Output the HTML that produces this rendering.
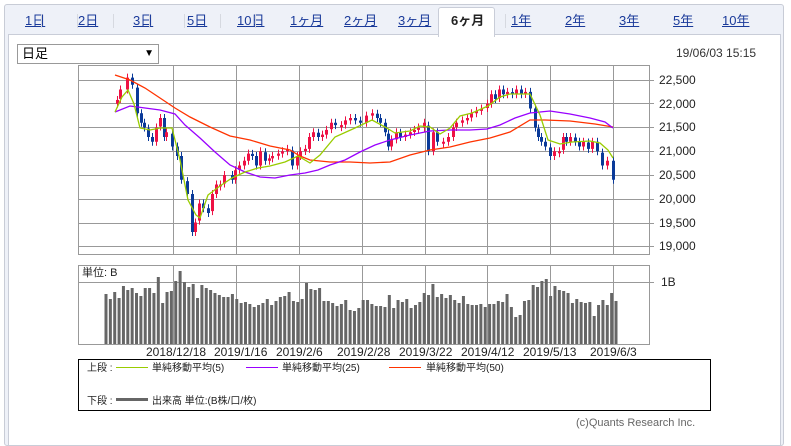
<!DOCTYPE html>
<html><head><meta charset="utf-8">
<style>
body{margin:0;width:791px;height:436px;overflow:hidden;background:#fff;font-family:"Liberation Sans","Noto Sans CJK JP",sans-serif;position:relative}
.outer{position:absolute;left:4px;top:4px;width:778px;height:440px;border:1px solid #c8ccd6;border-radius:3px;background:#eef1f8}
.panel{position:absolute;left:8px;top:34px;width:771px;height:410px;background:#fff;border:1px solid #c9cdd8}
.tab{position:absolute;top:10px;font-size:13px;color:#1a3a9a;text-decoration:underline;}
.sep{position:absolute;top:14px;width:1px;height:14px;background:#d6d9e0}
.act{position:absolute;left:438px;top:7px;width:55px;height:29px;background:#fff;border:1px solid #c9cdd8;border-bottom:none;border-radius:3px 3px 0 0}
</style></head><body>
<div class="outer"></div>
<div class="panel"></div>
<div class="act"></div>
<span class="tab" style="left:25px">1日</span>
<span class="tab" style="left:78px">2日</span>
<span class="tab" style="left:133px">3日</span>
<span class="tab" style="left:187px">5日</span>
<span class="tab" style="left:237px">10日</span>
<span class="tab" style="left:290px">1ヶ月</span>
<span class="tab" style="left:344px">2ヶ月</span>
<span class="tab" style="left:398px">3ヶ月</span>
<span class="tab" style="left:451px;color:#222;text-decoration:none;font-weight:bold">6ヶ月</span>
<span class="tab" style="left:511px">1年</span>
<span class="tab" style="left:565px">2年</span>
<span class="tab" style="left:619px">3年</span>
<span class="tab" style="left:673px">5年</span>
<span class="tab" style="left:722px">10年</span>
<div class="sep" style="left:41px"></div><div class="sep" style="left:77px"></div><div class="sep" style="left:113px"></div><div class="sep" style="left:149px"></div><div class="sep" style="left:184px"></div><div class="sep" style="left:220px"></div><div class="sep" style="left:255px"></div><div class="sep" style="left:505px"></div>
<div style="position:absolute;left:17px;top:44px;width:136px;height:18px;border:1px solid #999;background:#fff;font-size:13px;line-height:18px;padding-left:4px;box-sizing:content-box">日足<span style="position:absolute;right:4px;font-size:10px">▼</span></div>
<div style="position:absolute;left:676px;top:46px;font-size:12px;color:#333">19/06/03 15:15</div>
<svg id="s" width="791" height="436" style="position:absolute;left:0;top:0" xmlns="http://www.w3.org/2000/svg" font-family="Liberation Sans, DejaVu Sans, sans-serif">
<g stroke="#999" fill="none" stroke-width="1">
<rect x="78.5" y="65.5" width="571" height="189"/>
<rect x="78.5" y="265.5" width="571" height="79"/>
</g>
<g fill="#222" font-size="12">
<text x="659" y="84">22,500</text><text x="659" y="108">22,000</text><text x="659" y="131">21,500</text><text x="659" y="155">21,000</text><text x="659" y="179">20,500</text><text x="659" y="203">20,000</text><text x="659" y="227">19,500</text><text x="659" y="250">19,000</text>
<text x="661" y="286">1B</text>
<text x="82" y="276" font-size="11" font-family="Liberation Sans, Noto Sans CJK JP, sans-serif">単位: B</text>
<text x="146" y="356">2018/12/18</text><text x="214" y="356">2019/1/16</text><text x="276" y="356">2019/2/6</text><text x="337" y="356">2019/2/28</text><text x="399" y="356">2019/3/22</text><text x="461" y="356">2019/4/12</text><text x="523" y="356">2019/5/13</text><text x="590" y="356">2019/6/3</text>
</g>
<rect x="78.5" y="359.5" width="632" height="51" fill="none" stroke="#000"/>
<g font-size="10" fill="#222" font-family="Liberation Sans, Noto Sans CJK JP, sans-serif">
<text x="87" y="371">上段 :</text>
<line x1="116" y1="367.5" x2="148" y2="367.5" stroke="#99cc00"/><text x="152" y="371">単純移動平均(5)</text>
<line x1="246" y1="367.5" x2="278" y2="367.5" stroke="#9900ff"/><text x="282" y="371">単純移動平均(25)</text>
<line x1="389" y1="367.5" x2="421" y2="367.5" stroke="#ff3300"/><text x="426" y="371">単純移動平均(50)</text>
<text x="87" y="404">下段 :</text>
<rect x="116" y="398" width="32" height="3" fill="#666"/><text x="152" y="404">出来高 単位:(B株/口/枚)</text>
<text x="576" y="426" fill="#666" font-size="11">(c)Quants Research Inc.</text>
</g>
<g id="grid" stroke="#999" stroke-width="1"></g>
<g id="vol" fill="#666"></g>
<g id="cand"></g>
<g fill="none" stroke-width="1.3">
<polyline stroke="#ff3300" points="115,75 130,80 145,88 160,98 175,108 190,117 210,127 230,136 250,140 270,146 290,150 300,156 310,160 330,162 350,162 370,163 390,162 410,155 430,150 450,147 470,142 490,138 510,132 530,120 545,120 570,121 595,124 613,127"/>
<polyline stroke="#9900ff" points="115,112 130,106 145,108 160,110 175,114 185,125 200,138 215,152 230,165 245,172 260,177 275,178 290,175 305,173 318,170 330,165 345,160 360,152 375,145 390,140 410,135 430,131 450,130 470,130 487,129 500,125 515,118 530,113 550,111 570,114 590,118 605,122 613,128"/>
<polyline stroke="#99cc00" points="115,112 122,97 128,90 134,104 140,128 150,130 160,128 172,128 180,160 188,200 196,215 200,218 208,195 220,186 232,178 245,172 258,168 270,166 285,162 298,156 310,163 320,155 335,137 355,128 372,120 385,127 395,133 410,131 420,126 430,127 440,134 450,128 460,116 472,113 488,106 500,97 510,94 530,94 540,115 548,140 560,144 572,142 590,141 600,143 608,150 613,158"/>
</g>
</svg>
<script>
var ns="http://www.w3.org/2000/svg";
function el(p,t,a){var e=document.createElementNS(ns,t);for(var k in a)e.setAttribute(k,a[k]);document.getElementById(p).appendChild(e);}
[173,236,299,362,425,487,550,613].forEach(function(x){el("grid","line",{x1:x+.5,y1:65,x2:x+.5,y2:254});el("grid","line",{x1:x+.5,y1:265,x2:x+.5,y2:344});});
[80,103,127,151,175,199,223,246].forEach(function(y){el("grid","line",{x1:78,y1:y+.5,x2:654,y2:y+.5});});
el("grid","line",{x1:78,y1:282.5,x2:654,y2:282.5});
var v=[294,299,292,298,286,290,288,293,296,288,288,293,277,303,292,291,281,271,282,287,284,298,285,288,290,293,295,297,297,294,299,303,302,304,307,305,303,299,305,301,297,296,292,301,302,299,283,289,290,288,301,301,303,306,304,300,310,311,308,300,300,304,306,306,307,295,308,300,302,299,308,305,302,293,295,284,297,294,298,295,300,303,296,304,305,305,304,307,304,304,301,302,294,307,317,315,301,300,285,287,281,279,296,286,290,291,293,303,299,302,303,302,316,305,300,305,293,301];
var n=v.length,sp=(616-106)/(n-1);
v.forEach(function(t,i){el("vol","rect",{x:106+i*sp-1.5,y:t,width:3,height:344-t});});
var c=[[117,22080],[120,22300],[127,22550],[132,22400],[137,21800],[141,21600],[144,21500],[148,21300],[152,21200],[156,21500],[160,21700],[164,21300],[166,21400],[172,21100],[177,20900],[181,20400],[187,20100],[192,19300],[195,19500],[199,19900],[203,19800],[208,19700],[212,20100],[216,20300],[220,20300],[224,20500],[232,20400],[235,20600],[239,20700],[244,20800],[248,20950],[252,20900],[256,20700],[260,21000],[265,20800],[269,20850],[272,20900],[278,20950],[282,21000],[287,21050],[292,20700],[297,20900],[300,21000],[305,21050],[309,21300],[313,21400],[318,21300],[322,21350],[326,21450],[331,21600],[335,21550],[341,21550],[345,21650],[350,21700],[355,21650],[360,21600],[366,21750],[372,21800],[377,21700],[380,21600],[385,21400],[388,21100],[391,21250],[396,21400],[400,21300],[405,21350],[410,21400],[414,21450],[418,21500],[424,21600],[428,21000],[433,21400],[437,21200],[443,21200],[448,21300],[453,21500],[456,21600],[462,21650],[467,21700],[471,21800],[476,21850],[481,21900],[487,22000],[491,22200],[495,22100],[499,22300],[503,22200],[507,22250],[512,22200],[516,22300],[521,22200],[525,22250],[530,21900],[535,21500],[538,21300],[541,21200],[545,21100],[550,20900],[554,21000],[559,21000],[563,21300],[566,21200],[570,21300],[575,21200],[579,21100],[583,21200],[588,21050],[592,21200],[597,21000],[602,20700],[607,20800],[613,20400]];
function Y(p){return 80+(22500-p)*0.0475;}
var prev=22000;
c.forEach(function(d,i){var o=(i%3==1)?prev+ (d[1]-prev)*0.1:prev,cl=d[1];var up=cl>=o;var col=up?"#ee1144":"#0a3a99";
var y1=Y(Math.max(o,cl)),y2=Y(Math.min(o,cl));if(y2-y1<2)y2=y1+2;
el("cand","line",{x1:d[0]+.5,y1:y1-4,x2:d[0]+.5,y2:y2+4,stroke:col});
el("cand","rect",{x:d[0]-1,y:y1,width:3,height:y2-y1,fill:col});prev=cl;});
</script>
</body></html>
